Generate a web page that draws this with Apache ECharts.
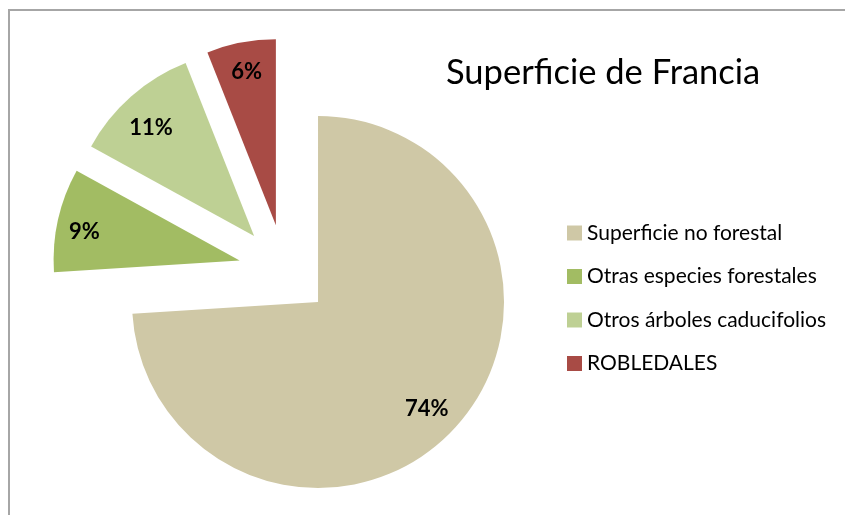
<!DOCTYPE html>
<html>
<head>
<meta charset="utf-8">
<script src="https://cdn.jsdelivr.net/npm/echarts@6/dist/echarts.min.js"></script>
<style>
html,body{margin:0;padding:0;background:#fff;}
#chart{width:845px;height:515px;}
</style>
</head>
<body>
<div id="chart"></div>
<script>
var categories = ['Superficie no forestal', 'Otras especies forestales', 'Otros árboles caducifolios', 'ROBLEDALES'];
var values = [74, 9, 11, 6];
var colors = ['#CFC8A6', '#A2BC63', '#BED094', '#A84B45'];
var titleText = 'Superficie de Francia';

// per-slice label styling (style only) to mimic the original's label placement
var labelStyles = [
  { padding: [0, 10, 0, 0] },
  { padding: [0, 6, 0, 0], formatter: '\n{d}%', lineHeight: 10 },
  { formatter: '\n{d}%', lineHeight: 18 },
  {}
];

var FONT = 'Lato, "Open Sans", sans-serif';
var center = [284.5, 270.5];
var R = 186;
var offset = 46;

function makeData(transparent) {
  return categories.map(function (c, i) {
    var d = {
      name: c,
      value: values[i],
      selected: true,
      itemStyle: { color: transparent ? 'rgba(0,0,0,0)' : colors[i] }
    };
    if (transparent) d.label = labelStyles[i];
    return d;
  });
}

var chart = echarts.init(document.getElementById('chart'), null, { renderer: 'canvas' });
chart.setOption({
  animation: false,
  backgroundColor: '#fff',
  title: {
    text: titleText,
    left: 446,
    top: 55,
    padding: 0,
    textStyle: { fontFamily: FONT, fontSize: 34.5, fontWeight: 'normal', color: '#000' }
  },
  legend: {
    data: categories,
    orient: 'vertical',
    left: 567,
    top: 222,
    padding: 0,
    icon: 'rect',
    itemWidth: 15,
    itemHeight: 15,
    itemGap: 21.5,
    selectedMode: false,
    textStyle: { fontFamily: FONT, fontSize: 21, lineHeight: 22, color: '#000' }
  },
  graphic: [{
    type: 'rect',
    shape: { x: 9, y: 10, width: 900, height: 600 },
    style: { fill: 'none', stroke: '#A6A6A6', lineWidth: 2 },
    silent: true,
    z: -1
  }],
  series: [
    {
      type: 'pie',
      center: center,
      radius: [0, R],
      startAngle: 90,
      clockwise: true,
      selectedMode: 'multiple',
      selectedOffset: offset,
      avoidLabelOverlap: false,
      label: { show: false },
      labelLine: { show: false },
      emphasis: { disabled: true },
      select: { itemStyle: { borderWidth: 0 } },
      data: makeData(false)
    },
    {
      type: 'pie',
      center: center,
      radius: [120, R],
      startAngle: 90,
      clockwise: true,
      selectedMode: 'multiple',
      selectedOffset: offset,
      silent: true,
      legendHoverLink: false,
      avoidLabelOverlap: false,
      label: {
        show: true,
        position: 'inside',
        formatter: '{d}%',
        fontFamily: FONT,
        fontWeight: 'bold',
        fontSize: 22,
        color: '#000'
      },
      labelLine: { show: false },
      emphasis: { disabled: true },
      select: { itemStyle: { borderWidth: 0 } },
      data: makeData(true)
    }
  ]
});
</script>
</body>
</html>
